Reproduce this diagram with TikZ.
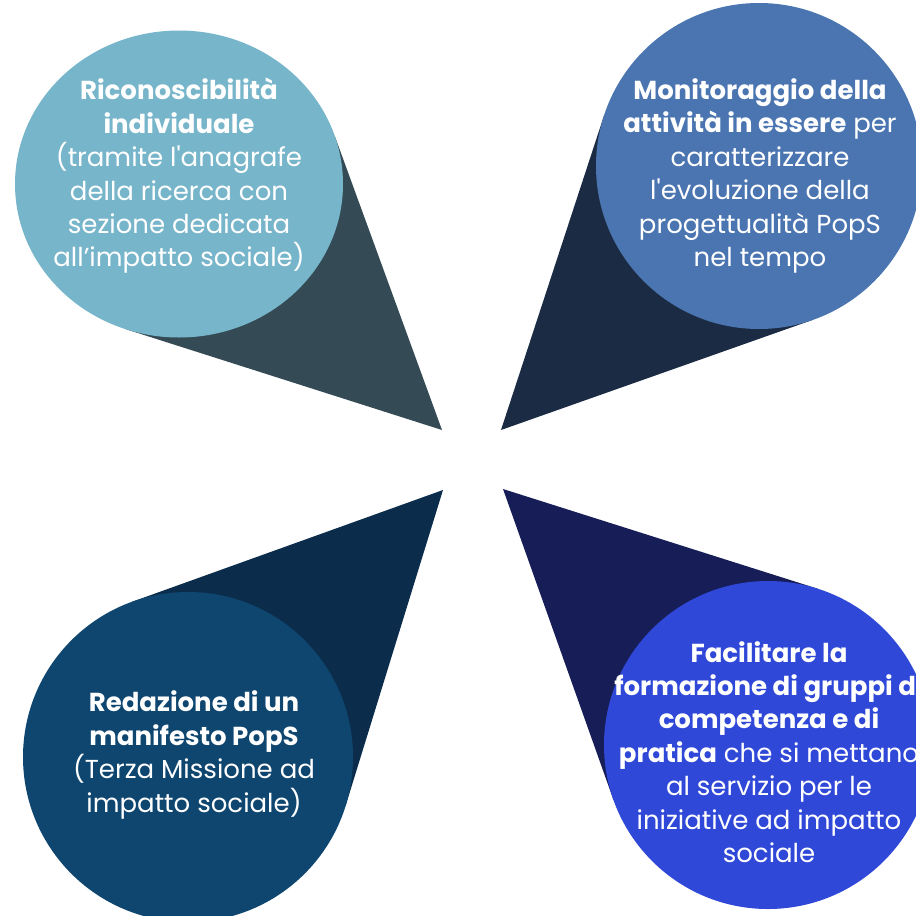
\documentclass[tikz,border=0pt]{standalone}
\usepackage{fontspec}
\setmainfont{Poppins}[Ligatures=TeXOff]
\usetikzlibrary{calc,backgrounds,shapes.geometric}
\definecolor{ricFill}{HTML}{77B5CA}
\definecolor{ricTail}{HTML}{344B55}
\definecolor{monFill}{HTML}{4A75B1}
\definecolor{monTail}{HTML}{1C2B44}
\definecolor{redFill}{HTML}{0E4670}
\definecolor{redTail}{HTML}{0B2D4B}
\definecolor{facFill}{HTML}{2F48D8}
\definecolor{facTail}{HTML}{161D57}
\tikzset{
  bubble/.style={circle,minimum size=#1,inner sep=0pt,outer sep=0pt},
  bubbletext/.style={text=white,align=center,inner sep=0pt,font=\fontsize{26}{33.4}\selectfont},
}
\begin{document}
\begin{tikzpicture}[x=1pt,y=-1pt]
  \useasboundingbox (0,0) rectangle (916,916);
  % Bubbles (the first one is a bit flattened)
  \node[ellipse,minimum width=328pt,minimum height=307pt,inner sep=0pt,outer sep=0pt,fill=ricFill] (ric) at (179,184) {};
  \node[bubble=326pt,fill=monFill] (mon) at (759,166) {};
  \node[bubble=330pt,fill=redFill] (red) at (188,757) {};
  \node[bubble=328pt,fill=facFill] (fac) at (768,745) {};
  % Tips of the tails, near the middle
  \coordinate (ricTip) at (442,430);
  \coordinate (monTip) at (501,430);
  \coordinate (redTip) at (443,490);
  \coordinate (facTip) at (503,489);
  % Tails behind the bubbles
  \begin{scope}[on background layer]
    \fill[ricTail] (ricTip) -- (ric.17.7) -- (ric.center) -- (ric.250) -- cycle;
    \foreach \b in {mon,red,fac}{
      \fill[\b Tail] (\b Tip) -- (tangent cs:node=\b,point={(\b Tip)},solution=1)
        -- (\b.center) -- (tangent cs:node=\b,point={(\b Tip)},solution=2) -- cycle;
    }
  \end{scope}
  % Texts
  \node[bubbletext] (ricText) at (179,176) {\textbf{Riconoscibilità}\\\textbf{individuale}\\(tramite l'anagrafe\\della ricerca con\\sezione dedicata\\all’impatto sociale)};
  \node[bubbletext] (monText) at (760,176) {\textbf{Monitoraggio della}\\\textbf{attività in essere} per\\caratterizzare\\l'evoluzione della\\progettualità PopS\\nel tempo};
  \node[bubbletext] (redText) at (194,755) {\textbf{Redazione di un}\\\textbf{manifesto PopS}\\(Terza Missione ad\\impatto sociale)};
  \node[bubbletext] (facText) at (769,752) {\textbf{Facilitare la}\\\textbf{formazione di gruppi di}\\\textbf{competenza e di}\\\textbf{pratica} che si mettano\\al servizio per le\\iniziative ad impatto\\sociale};
\end{tikzpicture}
\end{document}
